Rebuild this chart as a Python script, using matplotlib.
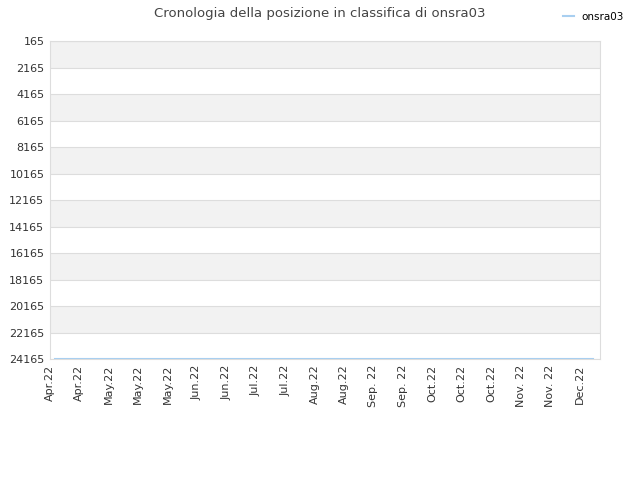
import matplotlib
matplotlib.use('Agg')
import matplotlib.pyplot as plt

# data
player = 'onsra03'
tick_labels = ['Apr.22', 'Apr.22', 'May.22', 'May.22', 'May.22', 'Jun.22', 'Jun.22',
               'Jul.22', 'Jul.22', 'Aug.22', 'Aug.22', 'Sep. 22', 'Sep. 22',
               'Oct.22', 'Oct.22', 'Oct.22', 'Nov. 22', 'Nov. 22', 'Dec.22']
x_pos = [0.17, 4.0, 8.0, 12.0, 16.0, 18.47]
ranks = [24165, 24165, 24165, 24165, 24165, 24165]
y_ticks = list(range(165, 24166, 2000))

fig = plt.figure(figsize=(6.4, 4.8), dpi=100)
ax = fig.add_axes([0.078, 0.252, 0.8595, 0.6625])

# alternating bands
for i in range(len(y_ticks) - 1):
    if i % 2 == 0:
        ax.axhspan(y_ticks[i], y_ticks[i + 1], color='#f2f2f2', zorder=0, lw=0)
for y in y_ticks:
    ax.axhline(y, color='#dddddd', lw=0.8, zorder=1)

ax.plot(x_pos, ranks, color='#a8cff0', lw=1.5, zorder=3, label=player)

ax.set_ylim(24165, 165)
ax.set_xlim(0, 18.7)
ax.set_yticks(y_ticks)
ax.set_yticklabels([str(v) for v in y_ticks], fontsize=8, color='#333333')
ax.set_xticks(range(len(tick_labels)))
ax.set_xticklabels(tick_labels, rotation=90, fontsize=8, color='#333333')
ax.tick_params(length=0, pad=4)
for s in ax.spines.values():
    s.set_color('#dddddd')

fig.suptitle('Cronologia della posizione in classifica di onsra03', x=0.5, y=0.985,
             fontsize=9.5, color='#444444')
fig.legend(loc='upper right', bbox_to_anchor=(0.99, 0.995), frameon=False,
           fontsize=7.5, handlelength=1.0)

plt.savefig('out.png', dpi=100)
